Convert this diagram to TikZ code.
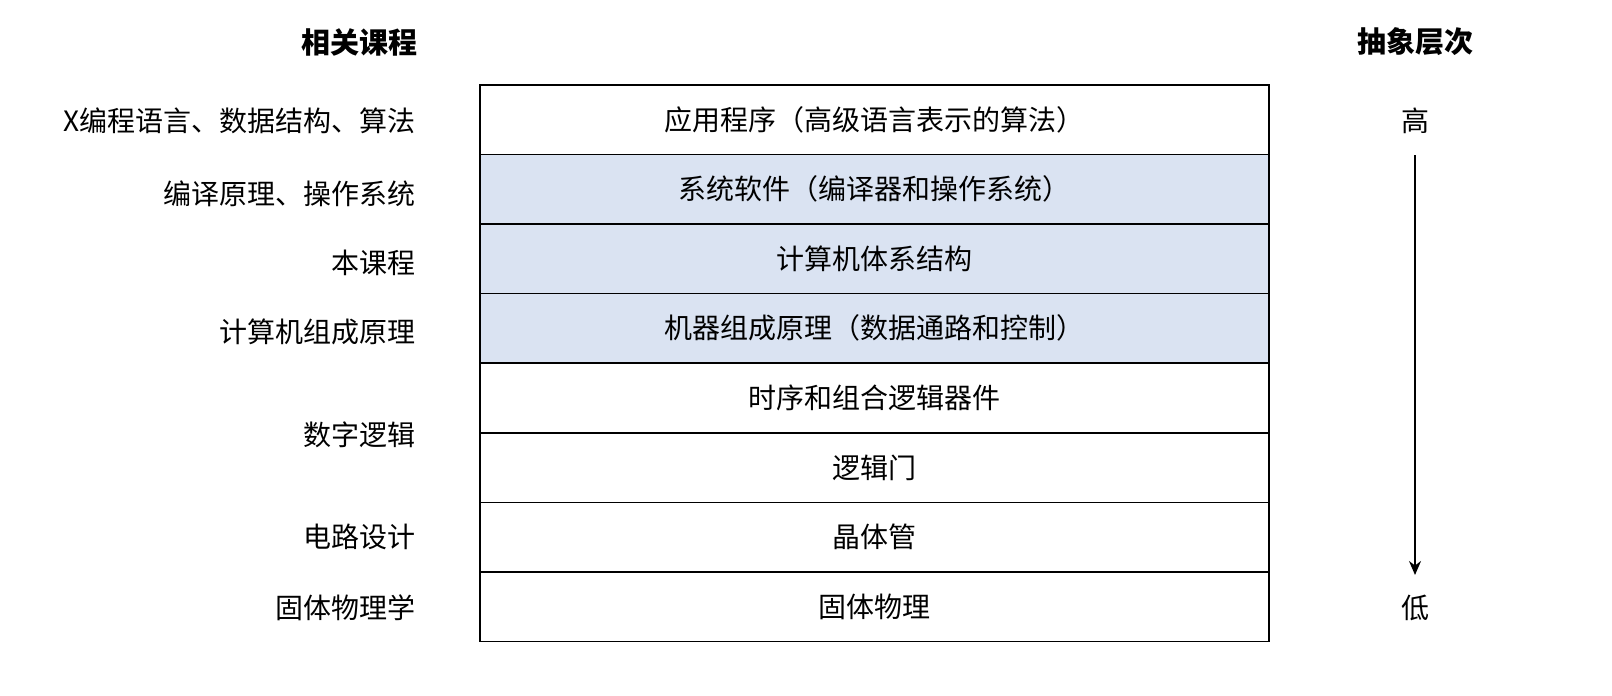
\documentclass[tikz,border=0pt]{standalone}
\usepackage{fontspec}
\setmainfont{Noto Sans CJK SC}
\usetikzlibrary{arrows.meta}
\definecolor{rowblue}{HTML}{DAE3F2}
\tikzset{
  rowbox/.style={draw=black, line width=1.6pt, minimum width=789pt, minimum height=69.6pt, inner sep=0pt, anchor=center, font=\fontsize{28}{32}\selectfont},
  shaded/.style={rowbox, fill=rowblue},
  plain/.style={rowbox, fill=white},
  leftlab/.style={anchor=east, inner sep=0pt, font=\fontsize{28}{32}\selectfont},
  head/.style={inner sep=0pt, font=\fontsize{29}{32}\selectfont\bfseries},
  sidelab/.style={inner sep=0pt, font=\fontsize{28}{32}\selectfont},
}
\begin{document}
\begin{tikzpicture}[x=1pt,y=-1pt]
\useasboundingbox (0,0) rectangle (1612,696);
% rows
\node[plain]  (r1) at (874.5,119.5) {应用程序（高级语言表示的算法）};
\node[shaded] (r2) at (874.5,189.1) {系统软件（编译器和操作系统）};
\node[shaded] (r3) at (874.5,258.7) {计算机体系结构};
\node[shaded] (r4) at (874.5,328.3) {机器组成原理（数据通路和控制）};
\node[plain]  (r5) at (874.5,397.9) {时序和组合逻辑器件};
\node[plain]  (r6) at (874.5,467.5) {逻辑门};
\node[plain]  (r7) at (874.5,537.1) {晶体管};
\node[plain]  (r8) at (874.5,606.7) {固体物理};
% headings
\node[head, anchor=east] (h1) at (418,42) {相关课程};
\node[head] (h2) at (1415,42) {抽象层次};
% left labels
\node[leftlab] (l1) at (416,121) {X编程语言、数据结构、算法};
\node[leftlab] (l2) at (416,194) {编译原理、操作系统};
\node[leftlab] (l3) at (416,263) {本课程};
\node[leftlab] (l4) at (416,332) {计算机组成原理};
\node[leftlab] (l5) at (416,435) {数字逻辑};
\node[leftlab] (l6) at (416,537) {电路设计};
\node[leftlab] (l7) at (416,608) {固体物理学};
% right side
\node[sidelab] (hi) at (1415,121) {高};
\node[sidelab] (lo) at (1415,608) {低};
\coordinate (as) at (1415,155);
\coordinate (ae) at (1415,575);
\draw[line width=1.6pt, -{Stealth[length=14pt,width=12pt]}] (as) -- (ae);
\end{tikzpicture}
\end{document}
